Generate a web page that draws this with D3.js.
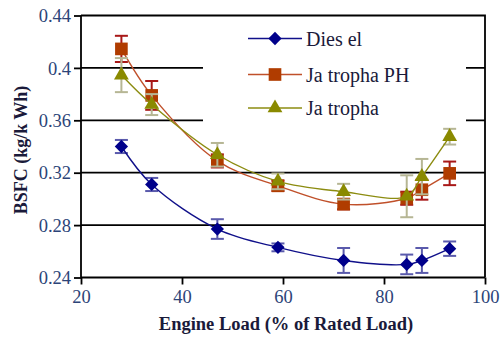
<!DOCTYPE html>
<html>
<head>
<meta charset="utf-8">
<script src="https://cdn.jsdelivr.net/npm/d3@7/dist/d3.min.js"></script>
<style>
  html, body { margin: 0; padding: 0; background: #fff; }
  svg { display: block; }
  svg text { font-family: "Liberation Serif", "Times New Roman", Times, "DejaVu Serif", serif; }
</style>
</head>
<body>
<svg id="chart" width="500" height="337"></svg>
<script>
// Engine load (% of rated load) at each test point
const load = [28, 34, 47, 59, 72, 84.5, 87.5, 93];

// BSFC (kg/kWh) and error-bar half widths per fuel
const diesel      = [0.340, 0.311, 0.277, 0.263, 0.253, 0.250, 0.253, 0.262];
const dieselErr   = [0.005, 0.005, 0.0075, 0.003, 0.0095, 0.0075, 0.0095, 0.0055];
const jatPH       = [0.4145, 0.379, 0.329, 0.310, 0.296, 0.3005, 0.307, 0.3195];
const jatPHErr    = [0.010, 0.011, 0.005, 0.004, 0.004, 0.005, 0.0076, 0.009];
const jatropha    = [0.3945, 0.372, 0.3337, 0.3134, 0.3055, 0.302, 0.317, 0.3475];
const jatrophaErr = [0.013, 0.008, 0.009, 0.006, 0.006, 0.016, 0.0135, 0.006];

const seriesNames = ["Dies el", "Ja tropha PH", "Ja tropha"];

const xTicks = [20, 40, 60, 80, 100];
const yTicks = [0.24, 0.28, 0.32, 0.36, 0.40, 0.44];
const yTickLabels = ["0.24", "0.28", "0.32", "0.36", "0.4", "0.44"];

const series = [
  { name: seriesNames[0], values: diesel, err: dieselErr,
    line: "#10108a", marker: "#00008b", errColor: "#5a5aac", shape: "diamond" },
  { name: seriesNames[1], values: jatPH, err: jatPHErr,
    line: "#c0502a", marker: "#b03c00", errColor: "#a81818", shape: "square" },
  { name: seriesNames[2], values: jatropha, err: jatrophaErr,
    line: "#8c8c10", marker: "#8a8a00", errColor: "#b6b694", shape: "triangle" }
];

const svg = d3.select("#chart");
const plotLeft = 81, plotRight = 485, plotTop = 15.5, plotBottom = 277.5;

const x = d3.scaleLinear().domain([20, 100]).range([plotLeft, plotRight]);
const y = d3.scaleLinear().domain([0.24, 0.44]).range([plotBottom, plotTop]);

const serif = '"Liberation Serif", "Times New Roman", Times, "DejaVu Serif", serif';
const tickColor = "#2c4478";
const titleColor = "#1a1a3a";

// horizontal grid lines
svg.append("g")
  .selectAll("line")
  .data(yTicks.slice(1, -1))
  .join("line")
  .attr("x1", plotLeft).attr("x2", plotRight)
  .attr("y1", d => y(d)).attr("y2", d => y(d))
  .attr("stroke", "#000").attr("stroke-width", 1.8);

// legend backdrop hides the grid behind it
const legendG = svg.append("g");
legendG.append("rect")
  .attr("x", 203).attr("y", 20).attr("width", 263).attr("height", 106)
  .attr("fill", "#fff");

// frame: top and right edges
svg.append("path")
  .attr("d", `M${plotLeft},${plotTop}H${plotRight}V${plotBottom}`)
  .attr("fill", "none").attr("stroke", "#000").attr("stroke-width", 1.8);

// axes
const yAxis = d3.axisLeft(y).tickValues(yTicks)
  .tickFormat((d, i) => yTickLabels[i]).tickSize(7).tickPadding(3);
const yg = svg.append("g").attr("transform", `translate(${plotLeft},0)`).call(yAxis);
const xAxis = d3.axisBottom(x).tickValues(xTicks).tickSize(7).tickPadding(5);
const xg = svg.append("g").attr("transform", `translate(0,${plotBottom})`).call(xAxis);

[yg, xg].forEach(g => {
  g.attr("font-family", null).attr("font-size", null);
  g.select(".domain").attr("stroke", "#000").attr("stroke-width", 1.8);
  g.selectAll(".tick line").attr("stroke", "#000").attr("stroke-width", 1.8);
  g.selectAll(".tick text")
    .style("font-family", serif).style("font-size", "18.5px")
    .attr("fill", tickColor);
});
yg.select(".domain").attr("d", `M0,${plotBottom}V${plotTop}`);
xg.select(".domain").attr("d", `M${plotLeft},0H${plotRight}`);
yg.selectAll(".tick text").attr("dy", "0.34em");

// axis titles
svg.append("text")
  .attr("x", 286).attr("y", 330)
  .attr("text-anchor", "middle")
  .style("font-family", serif).style("font-weight", "bold").style("font-size", "18.5px")
  .attr("fill", titleColor)
  .text("Engine Load (% of Rated Load)");

svg.append("text")
  .attr("transform", "translate(27,150) rotate(-90)")
  .attr("text-anchor", "middle")
  .style("font-family", serif).style("font-weight", "bold").style("font-size", "18px")
  .attr("fill", titleColor)
  .text("BSFC (kg/k Wh)");

// marker shapes
function markerPath(shape) {
  if (shape === "diamond") return d3.symbol(d3.symbolSquare, 88)();
  if (shape === "square") return d3.symbol(d3.symbolSquare, 160)();
  return d3.symbol(d3.symbolTriangle, 95)();
}
function markerTransform(shape, px, py) {
  return shape === "diamond"
    ? `translate(${px},${py}) rotate(45)`
    : `translate(${px},${py})`;
}

const line = d3.line()
  .x(d => x(d[0])).y(d => y(d[1]))
  .curve(d3.curveCatmullRom.alpha(0.5));

series.forEach(s => {
  const pts = load.map((l, i) => [l, s.values[i], s.err[i]]);
  const g = svg.append("g");

  // error bars
  const eb = g.append("g").attr("stroke", s.errColor).attr("stroke-width", 2);
  eb.selectAll("line.v").data(pts).join("line").attr("class", "v")
    .attr("x1", d => x(d[0])).attr("x2", d => x(d[0]))
    .attr("y1", d => y(d[1] - d[2])).attr("y2", d => y(d[1] + d[2]));
  eb.selectAll("line.t").data(pts).join("line").attr("class", "t")
    .attr("x1", d => x(d[0]) - 6.5).attr("x2", d => x(d[0]) + 6.5)
    .attr("y1", d => y(d[1] + d[2])).attr("y2", d => y(d[1] + d[2]));
  eb.selectAll("line.b").data(pts).join("line").attr("class", "b")
    .attr("x1", d => x(d[0]) - 6.5).attr("x2", d => x(d[0]) + 6.5)
    .attr("y1", d => y(d[1] - d[2])).attr("y2", d => y(d[1] - d[2]));

  // smoothed connecting line
  g.append("path").datum(pts)
    .attr("d", line)
    .attr("fill", "none").attr("stroke", s.line).attr("stroke-width", 1.4);

  // markers
  g.selectAll("path.m").data(pts).join("path").attr("class", "m")
    .attr("d", markerPath(s.shape))
    .attr("transform", d => markerTransform(s.shape, x(d[0]), y(d[1])))
    .attr("fill", s.marker);
});

// legend entries
const legendRows = [38.5, 74.5, 108];
series.forEach((s, i) => {
  const ly = legendRows[i];
  legendG.append("line")
    .attr("x1", 248).attr("x2", 302).attr("y1", ly).attr("y2", ly)
    .attr("stroke", s.line).attr("stroke-width", 1.6);
  legendG.append("path")
    .attr("d", markerPath(s.shape))
    .attr("transform", markerTransform(s.shape, 275, ly))
    .attr("fill", s.marker);
  legendG.append("text")
    .attr("x", 306).attr("y", ly + 7)
    .style("font-family", serif).style("font-size", "20px")
    .attr("fill", titleColor)
    .text(s.name);
});
</script>
</body>
</html>
